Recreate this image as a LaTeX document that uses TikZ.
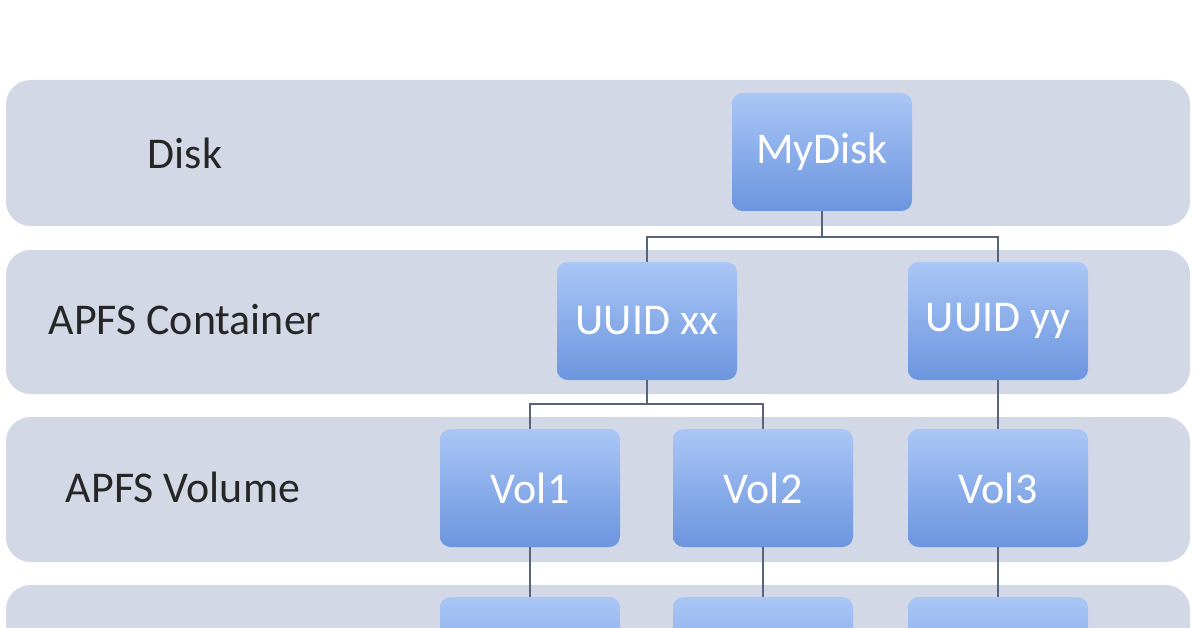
\documentclass[tikz,border=0pt]{standalone}
\usepackage{fontspec}
\setmainfont{Carlito}
\usetikzlibrary{positioning}
\definecolor{bandgray}{HTML}{D3D8E6}
\definecolor{boxtop}{HTML}{AAC6F6}
\definecolor{boxbot}{HTML}{6B95DE}
\definecolor{linegray}{HTML}{5A6478}
\tikzset{
  band/.style={fill=bandgray, rounded corners=14pt, draw=none},
  unit/.style={rounded corners=6pt, top color=boxtop, bottom color=boxbot, draw=none,
    minimum width=180*0.02cm, minimum height=118*0.02cm, text=white, font=\fontsize{25}{29}\selectfont},
  level/.style={font=\fontsize{25}{29}\selectfont, text=black!85},
  link/.style={draw=linegray, line width=0.8pt}
}
\begin{document}
\begin{tikzpicture}[x=0.02cm,y=-0.02cm]
\useasboundingbox (0,0) rectangle (1196,628);
\clip (0,0) rectangle (1196,628);
\fill[white] (0,0) rectangle (1196,628);
% layer bands
\fill[band] (6,80) rectangle (1190,226);
\fill[band] (6,250) rectangle (1190,394);
\fill[band] (6,417) rectangle (1190,562);
\fill[band] (6,585) rectangle (1190,700);
% layer labels
\node[level] (disk) at (185,153) {Disk};
\node[level] (cont) at (185,320) {APFS Container};
\node[level] (vol) at (183,487) {APFS Volume};
% boxes
\node[unit] (mydisk) at (822,152) {MyDisk};
\node[unit] (uxx) at (647,321) {UUID xx};
\node[unit] (uyy) at (998,321) {UUID yy};
\node[unit] (v1) at (530,488) {Vol1};
\node[unit] (v2) at (763,488) {Vol2};
\node[unit] (v3) at (998,488) {Vol3};
\node[unit] (b1) at (530,656) {};
\node[unit] (b2) at (763,656) {};
\node[unit] (b3) at (998,656) {};
% connectors
\coordinate (j1) at (822,237);
\coordinate (j2) at (647,404);
\draw[link] (mydisk.south) -- (j1) -| (uxx.north);
\draw[link] (j1) -| (uyy.north);
\draw[link] (uxx.south) -- (j2) -| (v1.north);
\draw[link] (j2) -| (v2.north);
\draw[link] (uyy) -- (v3);
\draw[link] (v1.south) -- (b1.north);
\draw[link] (v2.south) -- (b2.north);
\draw[link] (v3.south) -- (b3.north);
\end{tikzpicture}
\end{document}
